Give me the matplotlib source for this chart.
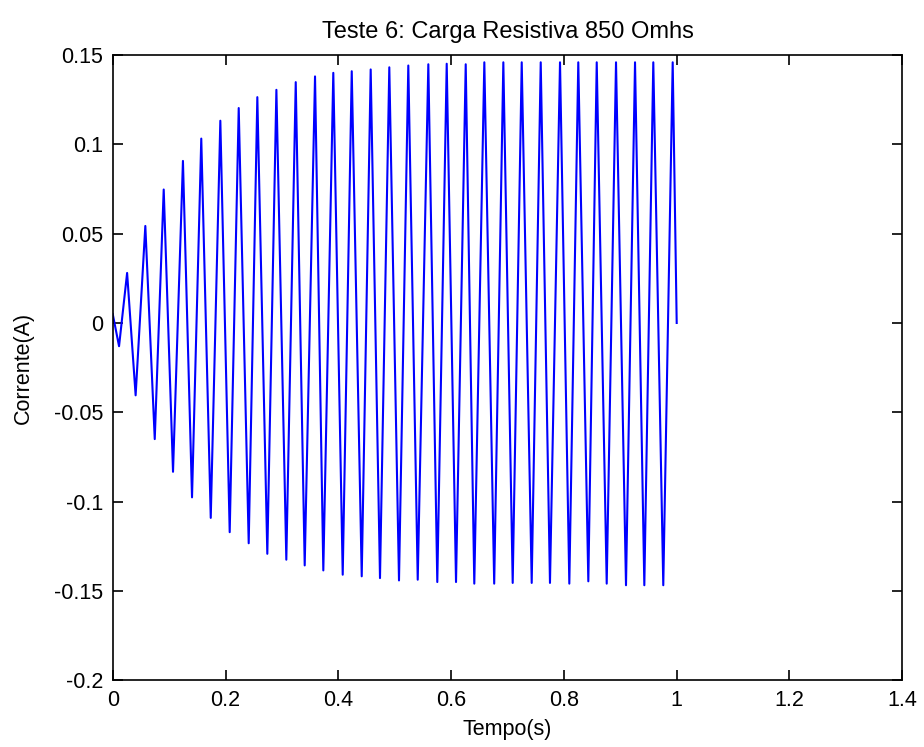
import matplotlib
matplotlib.use("Agg")
import matplotlib.pyplot as plt
import numpy as np

plt.rcParams['font.family'] = ['Liberation Sans', 'DejaVu Sans']
plt.rcParams['font.size'] = 15.5

# peaks (time in s, current in A)
t_start, i_start = 0.0, 0.005
t_end, i_end = 1.0, 0.0

t_pos = [0.0255, 0.0578, 0.0904, 0.1245, 0.1570, 0.1908, 0.2234, 0.2564, 0.2902, 0.3245,
         0.3587, 0.3911, 0.4238, 0.4574, 0.4904, 0.5241, 0.5596, 0.5922, 0.6259, 0.6589,
         0.6926, 0.7252, 0.7589, 0.7931, 0.8255, 0.8582, 0.8924, 0.9261, 0.9585, 0.9929]
i_pos = [0.028, 0.0543, 0.0747, 0.0907, 0.1032, 0.1132, 0.1203, 0.1264, 0.1305, 0.1348,
         0.1380, 0.1400, 0.1409, 0.1419, 0.1431, 0.1441, 0.1448, 0.1451, 0.1448, 0.1459,
         0.1459, 0.1459, 0.1459, 0.1459, 0.1459, 0.1459, 0.1459, 0.1459, 0.1459, 0.1459]

t_neg = [0.0112, 0.0406, 0.0745, 0.1069, 0.1406, 0.1738, 0.2074, 0.2411, 0.2741, 0.3078,
         0.3404, 0.3734, 0.4078, 0.4415, 0.4739, 0.5076, 0.5408, 0.5755, 0.6087, 0.6411,
         0.6764, 0.7092, 0.7429, 0.7753, 0.8096, 0.8433, 0.8759, 0.9101, 0.9426, 0.9762]
i_neg = [-0.013, -0.0405, -0.065, -0.0833, -0.0976, -0.1091, -0.1171, -0.1233, -0.1292, -0.1325,
         -0.1357, -0.1385, -0.1409, -0.1418, -0.1428, -0.1441, -0.1437, -0.1450, -0.1450, -0.1459,
         -0.1459, -0.1455, -0.1455, -0.1455, -0.1459, -0.1446, -0.1459, -0.1468, -0.1468, -0.1468]

# alternate negative / positive peaks into one trace
t = [t_start]
i = [i_start]
for tn, vn, tp, vp in zip(t_neg, i_neg, t_pos, i_pos):
    t += [tn, tp]
    i += [vn, vp]
t.append(t_end)
i.append(i_end)

fig = plt.figure(figsize=(9.24, 7.47), dpi=100)
ax = fig.add_axes([0.1220, 0.0893, 0.8545, 0.8371])

ax.plot(t, i, color='#0000ff', linewidth=1.5)

ax.set_xlim(0, 1.4)
ax.set_ylim(-0.2, 0.15)
ax.set_xticks(np.arange(0, 1.41, 0.2))
ax.set_xticklabels(['0', '0.2', '0.4', '0.6', '0.8', '1', '1.2', '1.4'])
ax.set_yticks(np.arange(-0.2, 0.151, 0.05))
ax.set_yticklabels(['-0.2', '-0.15', '-0.1', '-0.05', '0', '0.05', '0.1', '0.15'])
ax.tick_params(direction='in', top=True, right=True, length=7, width=1.2, pad=7)
for s in ax.spines.values():
    s.set_linewidth(1.2)

ax.set_title('Teste 6: Carga Resistiva 850 Omhs', fontsize=17, pad=12)
ax.set_xlabel('Tempo(s)', labelpad=6)
ax.set_ylabel('Corrente(A)', labelpad=14)

fig.savefig('out.png', dpi=100)
